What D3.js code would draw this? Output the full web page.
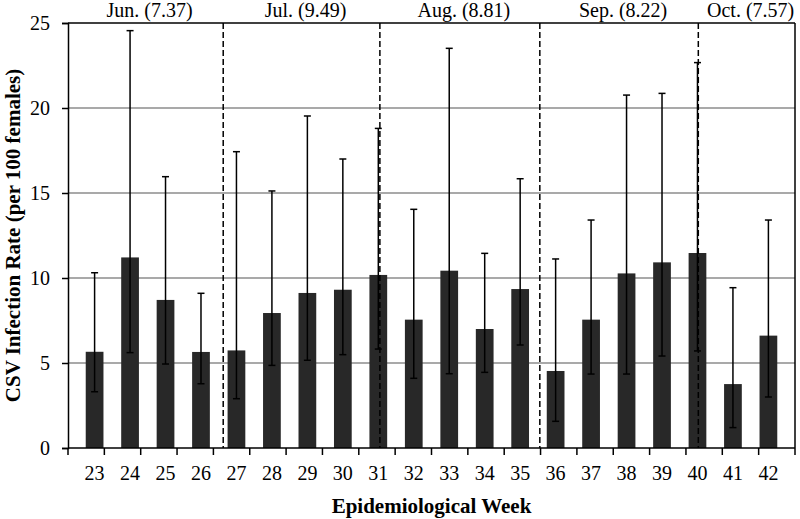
<!DOCTYPE html>
<html>
<head>
<meta charset="utf-8">
<script src="https://cdn.jsdelivr.net/npm/d3@7"></script>
<style>
  body { margin: 0; background: #fff; }
  text { font-family: "Liberation Serif", "Times New Roman", serif; fill: #000; }
</style>
</head>
<body>
<div id="chart"></div>
<script>
// weekly infection rate with 95% CI (per 100 females)
var weeks = [23, 24, 25, 26, 27, 28, 29, 30, 31, 32, 33, 34, 35, 36, 37, 38, 39, 40, 41, 42];
var rate  = [5.66, 11.21, 8.71, 5.65, 5.74, 7.94, 9.12, 9.31, 10.18, 7.55, 10.43, 7.0, 9.35, 4.53, 7.55, 10.27, 10.92, 11.47, 3.76, 6.61];
var upper = [10.31, 24.55, 15.96, 9.1, 17.43, 15.12, 19.53, 17.0, 18.8, 14.04, 23.51, 11.45, 15.84, 11.12, 13.41, 20.76, 20.86, 22.67, 9.43, 13.41];
var lower = [3.31, 5.61, 4.94, 3.78, 2.9, 4.86, 5.16, 5.49, 5.82, 4.1, 4.37, 4.45, 6.06, 1.57, 4.35, 4.35, 5.41, 5.71, 1.2, 3.0];

// month boundaries in fractional week units, and month labels
var monthBounds = [26.77, 31.08, 35.48, 39.84];
var monthLabels = ["Jun. (7.37)", "Jul. (9.49)", "Aug. (8.81)", "Sep. (8.22)", "Oct. (7.57)"];
var yTicks = [0, 5, 10, 15, 20, 25];

var margin = {top: 23, right: 5, bottom: 71, left: 68},
    width = 800 - margin.left - margin.right,
    height = 519 - margin.top - margin.bottom;

var svg = d3.select("#chart")
    .append("svg")
    .attr("width", 800)
    .attr("height", 519)
    .append("g")
    .attr("transform", "translate(" + margin.left + "," + margin.top + ")");

var x = d3.scaleBand().domain(weeks).range([0, width]).padding(0.5);
var y = d3.scaleLinear().domain([0, 25]).range([height, 0]);
// continuous week scale for month dividers
var xw = d3.scaleLinear()
    .domain([weeks[0] - 0.5, weeks[weeks.length - 1] + 0.5])
    .range([0, width]);

var data = weeks.map(function(w, i) {
    return {week: w, rate: rate[i], upper: upper[i], lower: lower[i]};
});

// gridlines
svg.selectAll(".grid")
    .data(yTicks.filter(function(d) { return d > 0 && d < 25; }))
    .enter().append("line")
    .attr("class", "grid")
    .attr("x1", 0).attr("x2", width)
    .attr("y1", function(d) { return y(d); })
    .attr("y2", function(d) { return y(d); })
    .style("stroke", "#8c8c8c")
    .style("stroke-width", 1.3);

// bars
svg.selectAll(".bar")
    .data(data)
    .enter().append("rect")
    .attr("class", "bar")
    .attr("x", function(d) { return x(d.week); })
    .attr("width", x.bandwidth())
    .attr("y", function(d) { return y(d.rate); })
    .attr("height", function(d) { return height - y(d.rate); })
    .style("fill", "#282828");

// month dividers
svg.selectAll(".divider")
    .data(monthBounds)
    .enter().append("line")
    .attr("class", "divider")
    .attr("x1", function(d) { return xw(d); })
    .attr("x2", function(d) { return xw(d); })
    .attr("y1", 0).attr("y2", height)
    .style("stroke", "#000")
    .style("stroke-width", 1.5)
    .style("stroke-dasharray", "6,3");

// error bars
var cap = 3.5;
var eb = svg.selectAll(".err")
    .data(data)
    .enter().append("g")
    .attr("class", "err")
    .attr("transform", function(d) { return "translate(" + (x(d.week) + x.bandwidth() / 2) + ",0)"; })
    .style("stroke", "#000")
    .style("stroke-width", 1.5);
eb.append("line")
    .attr("x1", 0).attr("x2", 0)
    .attr("y1", function(d) { return y(d.lower); })
    .attr("y2", function(d) { return y(d.upper); });
eb.append("line")
    .attr("x1", -cap).attr("x2", cap)
    .attr("y1", function(d) { return y(d.upper); })
    .attr("y2", function(d) { return y(d.upper); });
eb.append("line")
    .attr("x1", -cap).attr("x2", cap)
    .attr("y1", function(d) { return y(d.lower); })
    .attr("y2", function(d) { return y(d.lower); });

// frame top/right
svg.append("line")
    .attr("x1", 0).attr("x2", width).attr("y1", 0).attr("y2", 0)
    .style("stroke", "#000").style("stroke-width", 1.5);
svg.append("line")
    .attr("x1", width).attr("x2", width).attr("y1", 0).attr("y2", height)
    .style("stroke", "#000").style("stroke-width", 1.5);

// y axis
var yAxis = d3.axisLeft(y).tickValues(yTicks).tickSize(6).tickPadding(12);
var gy = svg.append("g").call(yAxis);
gy.select(".domain").style("stroke-width", 1.5);
gy.selectAll(".tick line").style("stroke-width", 1.5);
gy.selectAll(".tick text")
    .style("font-size", "20px")
    .style("font-family", "Liberation Serif, serif");

// x axis: tick marks at band boundaries, labels at centres
var gx = svg.append("g").attr("transform", "translate(0," + height + ")");
gx.append("line")
    .attr("x1", 0).attr("x2", width)
    .style("stroke", "#000").style("stroke-width", 1.5);
var bounds = d3.range(weeks.length + 1).map(function(i) { return weeks[0] - 0.5 + i; });
gx.selectAll(".xt")
    .data(bounds)
    .enter().append("line")
    .attr("x1", function(d) { return xw(d); })
    .attr("x2", function(d) { return xw(d); })
    .attr("y1", 0).attr("y2", 7)
    .style("stroke", "#000").style("stroke-width", 1.5);
gx.selectAll(".xl")
    .data(weeks)
    .enter().append("text")
    .attr("x", function(d) { return x(d) + x.bandwidth() / 2; })
    .attr("y", 32)
    .attr("text-anchor", "middle")
    .style("font-size", "20px")
    .text(function(d) { return d; });

// month labels centred between dividers
var edges = [weeks[0] - 0.5].concat(monthBounds, [weeks[weeks.length - 1] + 0.5]);
svg.selectAll(".month")
    .data(monthLabels)
    .enter().append("text")
    .attr("class", "month")
    .attr("x", function(d, i) { return (xw(edges[i]) + xw(edges[i + 1])) / 2 + 4; })
    .attr("y", -6)
    .attr("text-anchor", "middle")
    .style("font-size", "20px")
    .text(function(d) { return d; });

// axis titles
svg.append("text")
    .attr("x", width / 2)
    .attr("y", height + 65)
    .attr("text-anchor", "middle")
    .style("font-size", "21px")
    .style("font-weight", "bold")
    .text("Epidemiological Week");

svg.append("text")
    .attr("transform", "translate(" + (-margin.left + 20) + "," + (height / 2) + ") rotate(-90)")
    .attr("text-anchor", "middle")
    .style("font-size", "21px")
    .style("font-weight", "bold")
    .text("CSV Infection Rate (per 100 females)");
</script>
</body>
</html>
